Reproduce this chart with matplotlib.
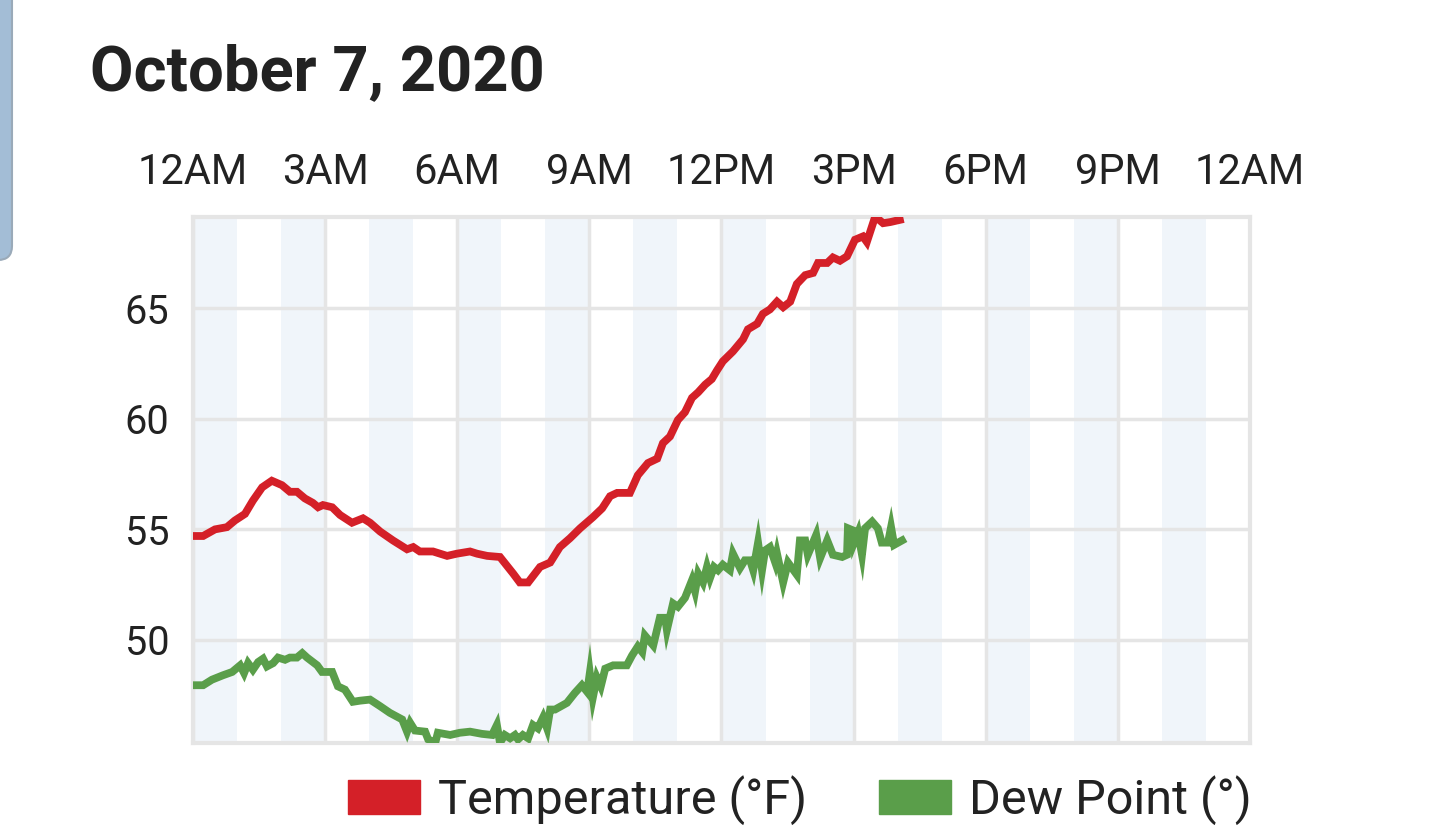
import matplotlib
matplotlib.use("Agg")
import matplotlib.pyplot as plt
from matplotlib.patches import Patch, FancyBboxPatch

plt.rcParams['font.family'] = ['Roboto', 'DejaVu Sans']

title = "October 7, 2020"
tick_hours = [0, 3, 6, 9, 12, 15, 18, 21, 24]
tick_labels = ["12AM", "3AM", "6AM", "9AM", "12PM", "3PM", "6PM", "9PM", "12AM"]
y_ticks = [50, 55, 60, 65]

# hours after midnight, temperature in F
temp_hours = [0.00, 0.23, 0.50, 0.77, 0.95, 1.18, 1.36, 1.57, 1.79, 2.02, 2.20, 2.36,
              2.54, 2.72, 2.84, 2.95, 3.16, 3.34, 3.61, 3.86, 4.02, 4.25, 4.54, 4.86,
              5.00, 5.15, 5.45, 5.77, 5.99, 6.29, 6.45, 6.68, 6.97, 7.27, 7.42, 7.61,
              7.88, 8.11, 8.33, 8.56, 8.79, 9.08, 9.29, 9.47, 9.63, 9.92, 10.10, 10.33,
              10.54, 10.67, 10.83, 11.01, 11.17, 11.33, 11.47, 11.63, 11.78, 11.90, 12.03,
              12.26, 12.49, 12.60, 12.81, 12.94, 13.10, 13.26, 13.40, 13.56, 13.71, 13.90,
              14.08, 14.19, 14.40, 14.53, 14.69, 14.85, 15.03, 15.21, 15.30, 15.49, 15.67,
              15.83, 16.05]
temp = [54.7, 54.7, 55.0, 55.1, 55.4, 55.7, 56.3, 56.9, 57.2, 57.0, 56.7, 56.7,
        56.4, 56.2, 56.0, 56.1, 56.0, 55.65, 55.3, 55.5, 55.3, 54.9, 54.5, 54.1,
        54.2, 54.0, 54.0, 53.8, 53.9, 54.0, 53.9, 53.8, 53.75, 53.0, 52.6, 52.6,
        53.3, 53.5, 54.2, 54.6, 55.05, 55.55, 55.95, 56.5, 56.65, 56.65, 57.45, 58.0,
        58.2, 58.9, 59.2, 59.95, 60.3, 60.95, 61.2, 61.55, 61.8, 62.2, 62.6,
        63.05, 63.6, 64.05, 64.3, 64.75, 64.95, 65.3, 65.05, 65.3, 66.1, 66.5,
        66.6, 67.05, 67.05, 67.3, 67.15, 67.35, 68.1, 68.25, 68.0, 69.15, 68.85,
        68.9, 69.0]

# hours after midnight, dew point
dew_hours = [0.00, 0.23, 0.43, 0.68, 0.89, 1.07, 1.16, 1.25, 1.36, 1.48, 1.59, 1.68,
             1.82, 1.93, 2.09, 2.20, 2.36, 2.48, 2.59, 2.82, 2.93, 3.16, 3.29, 3.45,
             3.63, 3.79, 4.02, 4.25, 4.47, 4.75, 4.86, 4.93, 5.04, 5.27, 5.34, 5.50,
             5.56, 5.84, 6.06, 6.29, 6.56, 6.79, 6.90, 6.97, 7.08, 7.20, 7.31, 7.38,
             7.49, 7.61, 7.72, 7.83, 7.95, 8.04, 8.11, 8.22, 8.49, 8.67, 8.83, 8.95,
             9.01, 9.08, 9.17, 9.26, 9.36, 9.54, 9.85, 9.97, 10.10, 10.20, 10.26, 10.45,
             10.60, 10.72, 10.76, 10.90, 11.01, 11.17, 11.33, 11.40, 11.47, 11.58, 11.67,
             11.74, 11.83, 11.92, 12.03, 12.19, 12.26, 12.42, 12.53, 12.65, 12.72, 12.83,
             12.92, 12.99, 13.10, 13.22, 13.26, 13.40, 13.51, 13.71, 13.78, 13.90, 13.96,
             14.15, 14.24, 14.40, 14.53, 14.74, 14.85, 14.87, 14.99, 15.01, 15.10, 15.19,
             15.26, 15.42, 15.55, 15.64, 15.78, 15.85, 15.92, 16.10]
dew = [47.95, 47.95, 48.2, 48.4, 48.55, 48.85, 48.5, 48.95, 48.65, 49.0, 49.15, 48.8,
       48.95, 49.2, 49.1, 49.2, 49.2, 49.4, 49.2, 48.85, 48.55, 48.55, 47.9, 47.75,
       47.2, 47.25, 47.3, 47.0, 46.7, 46.4, 45.85, 46.25, 45.9, 45.85, 45.5, 45.35,
       45.8, 45.7, 45.8, 45.85, 45.75, 45.7, 46.15, 45.35, 45.7, 45.55, 45.7, 45.5,
       45.7, 45.55, 46.15, 46.0, 46.5, 46.0, 46.85, 46.85, 47.15, 47.6, 47.95, 47.65,
       48.5, 47.4, 48.3, 47.9, 48.7, 48.85, 48.85, 49.3, 49.7, 49.45, 50.2, 49.75,
       51.0, 51.0, 50.45, 51.65, 51.5, 51.9, 52.7, 52.2, 53.0, 52.6, 53.3,
       52.8, 53.3, 53.15, 53.4, 53.15, 53.9, 53.25, 53.6, 53.6, 53.15, 54.4,
       53.15, 54.05, 54.2, 53.5, 53.9, 52.6, 53.5, 52.95, 54.5, 54.5, 53.85,
       54.75, 53.7, 54.5, 53.85, 53.75, 53.85, 55.05, 54.95, 54.4, 54.85, 53.85,
       55.05, 55.35, 55.05, 54.4, 54.4, 55.1, 54.3, 54.5]

red = "#d42028"
green = "#5a9e4a"
text_col = "#222222"
grid_col = "#e5e5e5"

fig = plt.figure(figsize=(14.4, 8.27), dpi=100)
W, H = 1440, 827
ax = fig.add_axes([193 / W, 1 - 742.7 / H, (1250 - 193) / W, (742.7 - 217) / H])

# alternating hour bands
for h in range(0, 24, 2):
    ax.axvspan(h, h + 1, color="#f0f5fa", lw=0, zorder=0)

ax.plot(temp_hours, temp, color=red, lw=5.6, solid_joinstyle="miter", zorder=3)
ax.plot(dew_hours, dew, color=green, lw=5.6, solid_joinstyle="miter", zorder=3)

ax.set_xlim(0, 24)
ax.set_ylim(45.35, 69.13)
ax.xaxis.tick_top()
ax.set_xticks(tick_hours)
ax.set_xticklabels(tick_labels)
ax.set_yticks(y_ticks)
ax.tick_params(axis="x", length=0, pad=17, labelsize=30, labelcolor=text_col)
ax.tick_params(axis="y", length=0, pad=17, labelsize=28.5, labelcolor=text_col)
ax.grid(color=grid_col, lw=2.5, zorder=1)
ax.set_axisbelow(True)
for s in ax.spines.values():
    s.set_color(grid_col)
    s.set_linewidth(3)

fig.text(90 / W, 1 - 90 / H, title, fontsize=45.5, fontweight="bold",
         color=text_col, va="baseline", ha="left")

handles = [Patch(color=red, label="Temperature (°F)"),
           Patch(color=green, label="Dew Point (°)")]
fig.legend(handles=handles, loc="center", bbox_to_anchor=(800 / W, 1 - 800 / H),
           ncol=2, frameon=False, fontsize=35, handlelength=1.48, handleheight=0.70,
           handletextpad=0.37, columnspacing=1.48, labelcolor=text_col)

# edge of the panel on the left
panel = FancyBboxPatch((-40, H - 260), 52, 320, boxstyle="round,pad=0,rounding_size=14",
                       transform=None, facecolor="#a3bdd6", edgecolor="#9aaab9", lw=1.5)
fig.patches.append(panel)

fig.savefig("out.png", dpi=100)
